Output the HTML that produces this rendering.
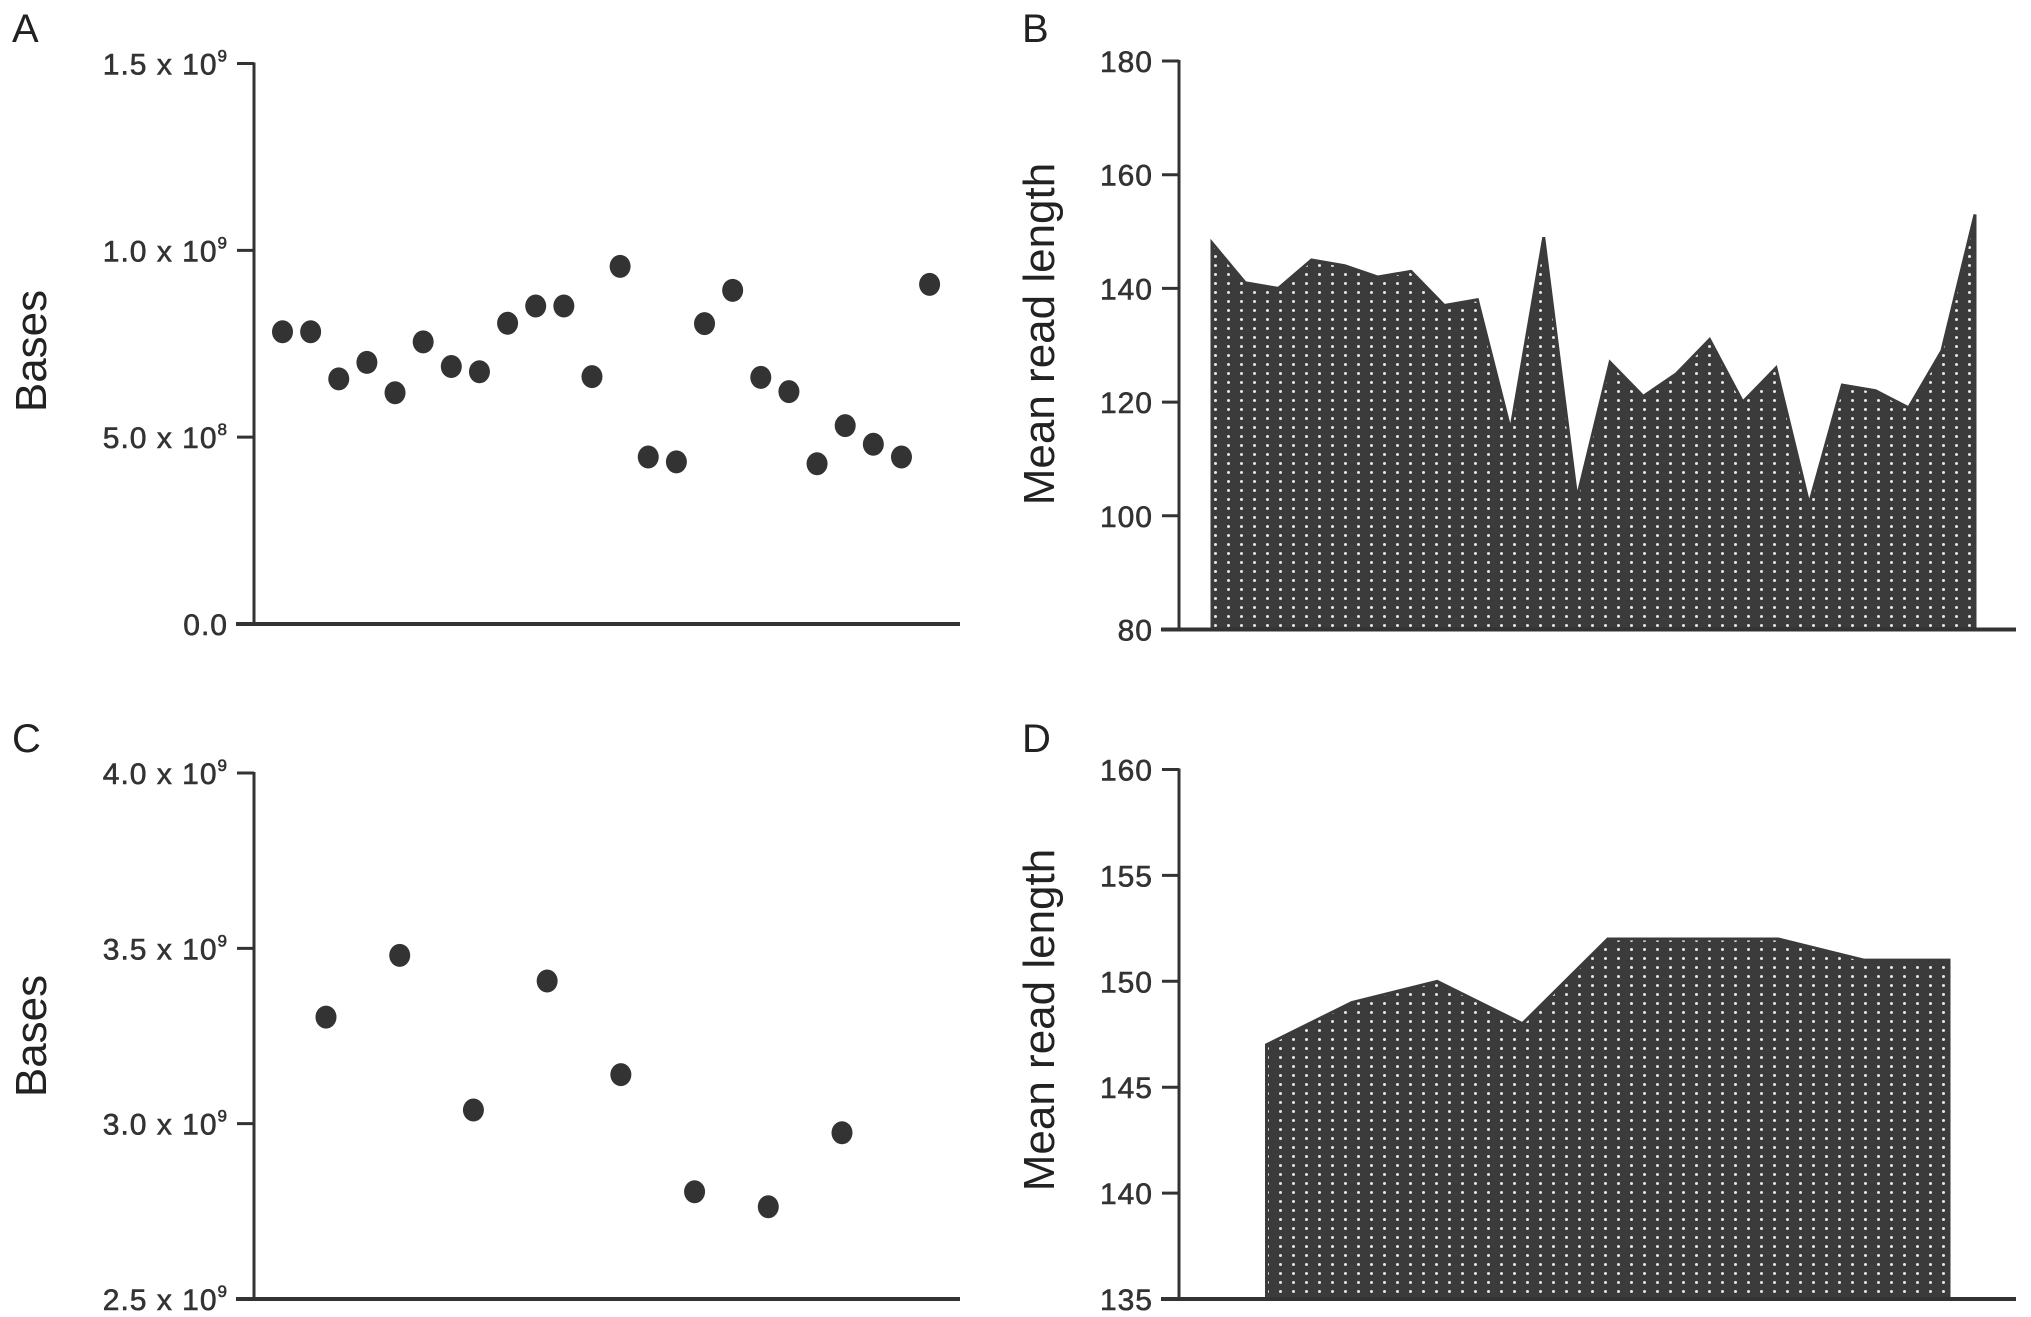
<!DOCTYPE html>
<html><head><meta charset="utf-8"><style>
html,body{margin:0;padding:0;background:#fff;}
svg{display:block;font-family:"Liberation Sans",sans-serif;}
</style></head><body>
<svg id="fig" width="2031" height="1317" viewBox="0 0 2031 1317">
<defs>
<pattern id="dots" width="13" height="9" patternUnits="userSpaceOnUse">
<rect width="13" height="9" fill="#3b3b3b"/>
<circle cx="6.5" cy="4.5" r="1.5" fill="#e6e6e6"/>
</pattern>
</defs>
</svg>
<script>
// Panel A data
const aValues = [0.782,0.782,0.656,0.700,0.619,0.755,0.689,0.675,0.805,0.851,0.851,0.662,0.957,0.447,0.434,0.804,0.893,0.660,0.622,0.429,0.531,0.481,0.447,0.909];
const aTicks = [0,0.5,1.0,1.5];
const aTickLabels = [["0.0",""],["5.0 x 10","8"],["1.0 x 10","9"],["1.5 x 10","9"]];
// Panel B data
const bValues = [148,141,140,145,144,142,143,137,138,115,149,103,127,121,125,131,120,126,102,123,122,119,129,153];
const bTicks = [80,100,120,140,160,180];
// Panel C data
const cValues = [3.304,3.480,3.039,3.407,3.140,2.806,2.763,2.974];
const cTicks = [2.5,3.0,3.5,4.0];
const cTickLabels = [["2.5 x 10","9"],["3.0 x 10","9"],["3.5 x 10","9"],["4.0 x 10","9"]];
// Panel D data
const dValues = [147,149,150,148,152,152,152,151,151];
const dTicks = [135,140,145,150,155,160];

const NS="http://www.w3.org/2000/svg";
const svg=document.getElementById('fig');
function mk(tag,attrs,parent){const e=document.createElementNS(NS,tag);for(const k in attrs)e.setAttribute(k,attrs[k]);(parent||svg).appendChild(e);return e;}
function lin(d0,d1,r0,r1){return v=>r0+(v-d0)/(d1-d0)*(r1-r0);}

function axes(g,ax,top,bottom,right,ticks,y,labels,name){
  const yl=mk('line',{x1:ax,y1:top-1,x2:ax,y2:bottom,stroke:'#333','stroke-width':3},g);
  
  
  const xl=mk('line',{x1:ax-18,y1:bottom,x2:right,y2:bottom,stroke:'#333','stroke-width':4},g);
  
  
  ticks.forEach((t,i)=>{
    const ty=y(t);
    const tl=mk('line',{x1:ax-17,y1:ty,x2:ax,y2:ty,stroke:'#333','stroke-width':3},g);
    
    
    const tx=mk('text',{x:ax-26,y:ty+11,'text-anchor':'end','font-size':30,fill:'#333',stroke:'#333','stroke-width':0.6,'letter-spacing':1},g);
    
    
    const lab=labels[i];
    if(Array.isArray(lab)){
      tx.appendChild(document.createTextNode(lab[0]));
      if(lab[1]){const s=mk('tspan',{dy:-13,'font-size':17},tx);s.textContent=lab[1];}
    } else tx.textContent=lab;
  });
}
function ytitle(g,x,y,txt,name){
  const t=mk('text',{x:x,y:y,transform:`rotate(-90 ${x} ${y})`,'text-anchor':'middle','font-size':44,fill:'#222'},g);
  t.textContent=txt;
  
  
}
function letter(x,y,txt){
  const t=mk('text',{x:x,y:y,'font-size':40,fill:'#222'});
  t.textContent=txt;
  
  
}
function scatter(name,vals,ticks,labels,ax,top,bottom,right,x0,x1,d0,d1){
  const g=mk('g',{});
  
  
  const y=lin(d0,d1,bottom,top);
  axes(g,ax,top,bottom,right,ticks,y,labels,name);
  const xs=i=>x0+(vals.length>1?i*(x1-x0)/(vals.length-1):0);
  vals.forEach((v,i)=>{
    const c=mk('ellipse',{cx:xs(i),cy:y(v),rx:10.5,ry:11.5,fill:'#333'},g);
    
    
  });
  return g;
}
function area(name,vals,ticks,ax,top,bottom,right,x0,x1,d0,d1){
  const g=mk('g',{});
  
  
  const y=lin(d0,d1,bottom,top);
  const xs=i=>x0+i*(x1-x0)/(vals.length-1);
  let d=`M${x0},${bottom}`;
  vals.forEach((v,i)=>{d+=` L${xs(i)},${y(v)}`;});
  d+=` L${x1},${bottom} Z`;
  const p=mk('path',{d:d,fill:'url(#dots)',stroke:'#3b3b3b','stroke-width':3,'stroke-linejoin':'miter'},g);
  
  
  axes(g,ax,top,bottom,right,ticks,y,ticks.map(String),name);
  return g;
}

letter(12,42,'A');letter(1022,42,'B');letter(12,752,'C');letter(1022,752,'D');

const gA=scatter('panel-a-chart',aValues,aTicks,aTickLabels,254,63.5,624,960,282.5,929.6,0,1.5);
ytitle(gA,46,351,'Bases','panel-a-y-title');
const gB=area('panel-b-chart',bValues,bTicks,1179,61,629.5,2016,1212,1975,80,180);
ytitle(gB,1054,334,'Mean read length','panel-b-y-title');
const gC=scatter('panel-c-chart',cValues,cTicks,cTickLabels,254,773,1299,960,326,842,2.5,4.0);
ytitle(gC,46,1036,'Bases','panel-c-y-title');
const gD=area('panel-d-chart',dValues,dTicks,1179,769.5,1299,2016,1266.5,1949,135,160);
ytitle(gD,1054,1020,'Mean read length','panel-d-y-title');
</script>
</body></html>
